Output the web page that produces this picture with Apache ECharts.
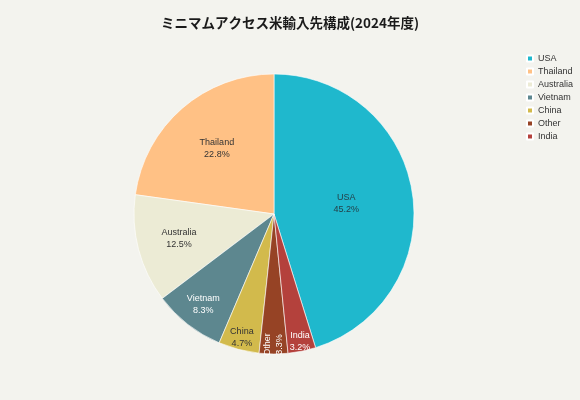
<!DOCTYPE html>
<html>
<head>
<meta charset="utf-8">
<script src="https://cdn.jsdelivr.net/npm/echarts@6/dist/echarts.min.js"></script>
<style>
  html, body { margin: 0; padding: 0; background: #f3f3ee; }
  #main { width: 580px; height: 400px; }
</style>
</head>
<body>
<div id="main"></div>
<script>
// data
var countries = ['USA', 'Thailand', 'Australia', 'Vietnam', 'China', 'Other', 'India'];
var shares = [45.2, 22.8, 12.5, 8.3, 4.7, 3.3, 3.2];
var colors = ['#1FB8CD', '#FFC185', '#ECEBD5', '#5D878F', '#D2BA4C', '#964325', '#B4413C'];

// label look (radial position as fraction of radius, text colour)
var labelDepth = [0.5, 0.6, 0.68, 0.8, 0.89, 0.91, 0.91];
var labelColor = ['#24414a', '#333', '#333', '#fff', '#333', '#fff', '#fff'];

var R = 140;
var total = shares.reduce(function (a, b) { return a + b; }, 0);
var startAngle = 90 - 360 * shares[0] / total;

var pieData = [];
var cum = 0;
for (var i = 0; i < countries.length; i++) {
    var mid = (startAngle + 360 * (cum + shares[i] / 2) / total) * Math.PI / 180;
    cum += shares[i];
    var d = (labelDepth[i] - 0.5) * R;
    var sx = d * Math.cos(mid), sy = -d * Math.sin(mid);
    var vertical = countries[i] === 'Other';
    pieData.push({
        name: countries[i],
        value: shares[i],
        itemStyle: { color: colors[i] },
        label: {
            color: labelColor[i],
            // offset is applied in the label's own (rotated) frame
            offset: vertical ? [-sy, sx] : [sx, sy],
            rotate: vertical ? 90 : 0
        }
    });
}

var myChart = echarts.init(document.getElementById('main'));

var option = {
    backgroundColor: '#f3f3ee',
    title: {
        text: 'ミニマムアクセス米輸入先構成(2024年度)',
        left: 'center',
        top: 11,
        textStyle: {
            fontSize: 13.5,
            fontWeight: 'bold',
            color: '#1a1a1a',
            fontFamily: 'Noto Sans CJK JP'
        }
    },
    legend: {
        orient: 'vertical',
        left: 521,
        top: 49,
        itemWidth: 6,
        itemHeight: 6,
        itemGap: 4,
        icon: 'rect',
        textStyle: { fontSize: 9, color: '#333', fontFamily: 'Liberation Sans' },
        data: countries
    },
    series: [
        {
            type: 'pie',
            center: [274, 214],
            radius: [0, R],
            clockwise: false,
            startAngle: startAngle,
            avoidLabelOverlap: false,
            itemStyle: { borderColor: '#ffffff', borderWidth: 0.6 },
            label: {
                show: true,
                position: 'inside',
                fontSize: 9,
                lineHeight: 12,
                fontFamily: 'Liberation Sans',
                formatter: function (p) { return p.name + '\n' + p.value.toFixed(1) + '%'; }
            },
            labelLine: { show: false },
            emphasis: { disabled: true },
            data: pieData
        }
    ]
};

myChart.setOption(option);
</script>
</body>
</html>
